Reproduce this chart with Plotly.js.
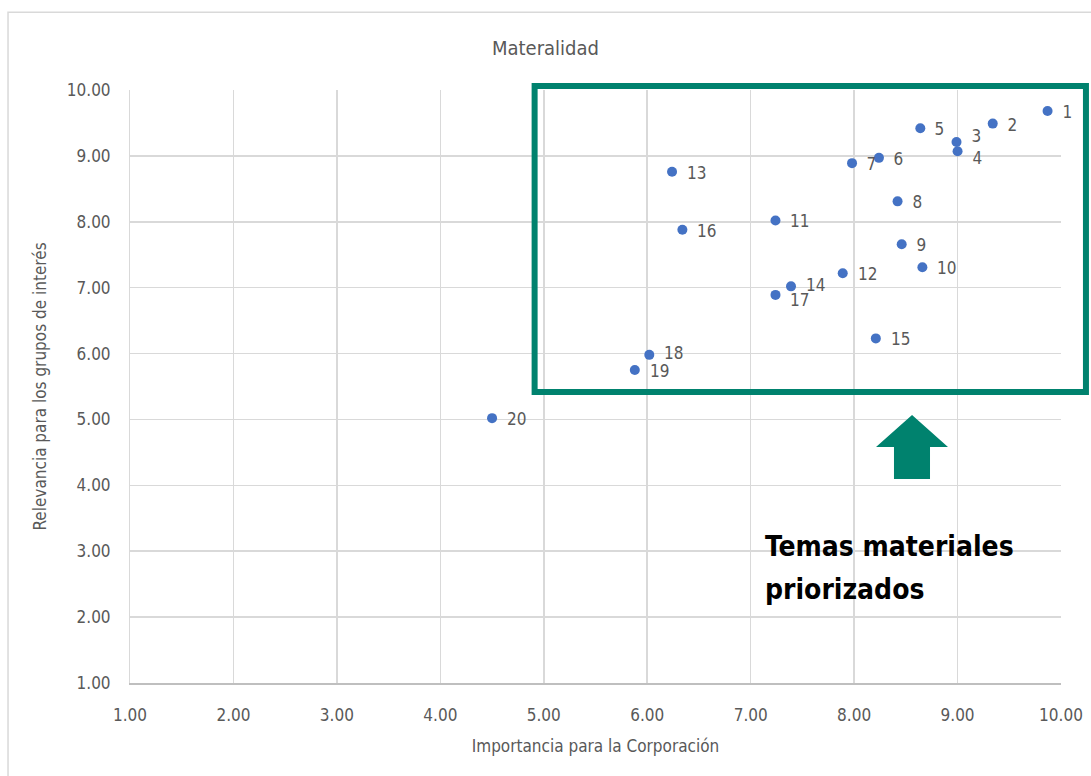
<!DOCTYPE html>
<html>
<head>
<meta charset="utf-8">
<script src="https://cdn.plot.ly/plotly-3.0.1.min.js"></script>
<style>
html,body{margin:0;padding:0;background:#fff;}
#chart{width:1091px;height:776px;}
#chart text{font-stretch:condensed !important;}
</style>
</head>
<body>
<div id="chart"></div>
<script>
const labels = ["1","2","3","4","5","6","7","8","9","10","11","12","13","14","15","16","17","18","19","20"];
const importancia = [9.87, 9.34, 8.99, 9.00, 8.64, 8.24, 7.98, 8.42, 8.46, 8.66, 7.24, 7.89, 6.24, 7.39, 8.21, 6.34, 7.24, 6.02, 5.88, 4.50];
const relevancia  = [9.68, 9.49, 9.21, 9.07, 9.42, 8.97, 8.89, 8.31, 7.66, 7.31, 8.02, 7.22, 8.76, 7.02, 6.23, 7.88, 6.89, 5.98, 5.75, 5.02];
const tickVals = [1,2,3,4,5,6,7,8,9,10];
const calloutLines = ['Temas materiales', 'priorizados'];

const FONT = "'DejaVu Sans', sans-serif";
const GRAY = '#595959';

// small label nudges (style), keyed by label
const nudgeY = {"3": 6, "4": -7, "14": 1, "17": -5, "18": 2, "19": -1};

const trace = {
  type: 'scatter',
  mode: 'markers',
  x: importancia,
  y: relevancia,
  text: labels,
  marker: {color: '#4472C4', size: 10},
  cliponaxis: false,
  hoverinfo: 'x+y+text'
};

const labelAnnotations = labels.map((lab, i) => ({
  xref: 'x', yref: 'y', x: importancia[i], y: relevancia[i],
  text: lab, showarrow: false, xanchor: 'left', yanchor: 'middle',
  xshift: 12, yshift: (nudgeY[lab] !== undefined ? nudgeY[lab] : -1),
  font: {family: FONT, size: 17, color: GRAY}
}));

const calloutAnnotations = calloutLines.map((line, i) => ({
  xref: 'paper', yref: 'paper', x: 0.680, y: i === 0 ? 0.231 : 0.157,
  xanchor: 'left', yanchor: 'middle', align: 'left', showarrow: false,
  text: '<b>' + line + '</b>',
  font: {family: FONT, size: 28, color: '#000'}
}));

const layout = {
  width: 1091, height: 776,
  margin: {l: 130, r: 30, t: 90, b: 93},
  paper_bgcolor: '#fff', plot_bgcolor: '#fff',
  showlegend: false,
  font: {family: FONT, color: GRAY},
  title: {text: 'Materalidad', font: {family: FONT, size: 20, color: GRAY}, x: 0.5, xanchor: 'center', y: 0.938, yanchor: 'middle'},
  xaxis: {
    range: [1, 10], tickvals: tickVals, tickformat: '.2f',
    showgrid: true, gridcolor: '#d9d9d9', gridwidth: 1.5,
    zeroline: false, showline: true, linecolor: '#bfbfbf', linewidth: 1.5,
    ticks: 'outside', ticklen: 16, tickcolor: 'rgba(0,0,0,0)',
    tickfont: {family: FONT, size: 17, color: GRAY},
    title: {text: 'Importancia para la Corporación', font: {family: FONT, size: 17, color: GRAY}, standoff: 16}
  },
  yaxis: {
    range: [1, 10], tickvals: tickVals, tickformat: '.2f',
    showgrid: true, gridcolor: '#d9d9d9', gridwidth: 1.5,
    zeroline: false, showline: true, linecolor: '#d9d9d9', linewidth: 1,
    ticks: 'outside', ticklen: 15, tickcolor: 'rgba(0,0,0,0)',
    tickfont: {family: FONT, size: 17, color: GRAY},
    title: {text: 'Relevancia para los grupos de interés', font: {family: FONT, size: 17, color: GRAY}, standoff: 10}
  },
  shapes: [
    {type: 'rect', xref: 'paper', yref: 'paper', x0: -0.131, x1: 1.04, y0: -0.2, y1: 1.131,
     line: {color: '#d9d9d9', width: 1.5}, fillcolor: 'rgba(0,0,0,0)', layer: 'below'},
    {type: 'rect', xref: 'paper', yref: 'paper', x0: 0.4346, x1: 1.0268, y0: 0.4907, y1: 1.0067,
     line: {color: '#00826E', width: 6}, fillcolor: 'rgba(0,0,0,0)', layer: 'above'},
    {type: 'path', xref: 'paper', yref: 'paper',
     path: 'M 0.8013 0.398 L 0.840 0.4519 L 0.8786 0.398 L 0.8593 0.398 L 0.8593 0.344 L 0.8206 0.344 L 0.8206 0.398 Z',
     fillcolor: '#00826E', line: {width: 0}, layer: 'above'}
  ],
  annotations: labelAnnotations.concat(calloutAnnotations)
};

Plotly.newPlot('chart', [trace], layout, {displayModeBar: false, staticPlot: true});
</script>
</body>
</html>
